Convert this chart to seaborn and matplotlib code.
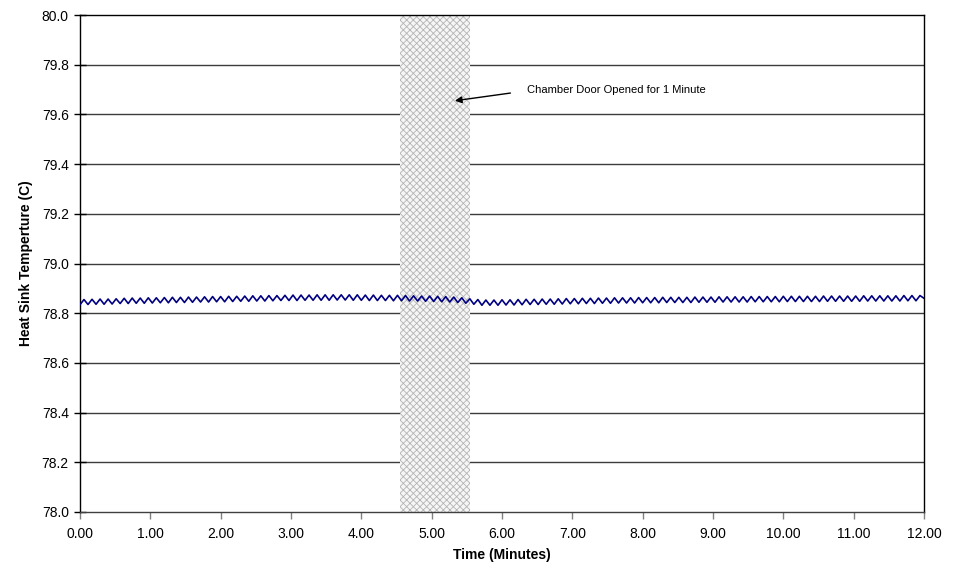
import numpy as np
import pandas as pd
import matplotlib
matplotlib.use('Agg')
import matplotlib.pyplot as plt
import seaborn as sns

# Heat sink temperature logged at a fixed interval (alternating trough / peak readings)
SAMPLE_MIN = 12.0 / 210
temp_c = [
    78.834, 78.855, 78.835, 78.856, 78.836, 78.857, 78.836, 78.857, 78.837, 78.858,
    78.839, 78.860, 78.839, 78.861, 78.840, 78.861, 78.840, 78.862, 78.841, 78.862,
    78.842, 78.863, 78.842, 78.864, 78.843, 78.864, 78.843, 78.865, 78.844, 78.865,
    78.845, 78.866, 78.845, 78.867, 78.846, 78.867, 78.846, 78.868, 78.847, 78.868,
    78.848, 78.869, 78.848, 78.870, 78.849, 78.870, 78.849, 78.871, 78.850, 78.871,
    78.851, 78.872, 78.851, 78.873, 78.851, 78.873, 78.852, 78.873, 78.852, 78.874,
    78.852, 78.874, 78.852, 78.874, 78.853, 78.874, 78.853, 78.874, 78.852, 78.874,
    78.852, 78.873, 78.851, 78.873, 78.851, 78.872, 78.851, 78.872, 78.850, 78.872,
    78.850, 78.871, 78.849, 78.870, 78.849, 78.869, 78.848, 78.869, 78.847, 78.868,
    78.846, 78.867, 78.845, 78.865, 78.843, 78.862, 78.840, 78.858, 78.836, 78.855,
    78.832, 78.853, 78.832, 78.853, 78.832, 78.854, 78.833, 78.854, 78.833, 78.855,
    78.834, 78.856, 78.835, 78.856, 78.835, 78.857, 78.836, 78.857, 78.836, 78.858,
    78.837, 78.859, 78.838, 78.859, 78.838, 78.860, 78.839, 78.860, 78.839, 78.861,
    78.840, 78.861, 78.840, 78.862, 78.841, 78.862, 78.841, 78.862, 78.841, 78.863,
    78.842, 78.863, 78.842, 78.863, 78.842, 78.864, 78.843, 78.864, 78.843, 78.864,
    78.843, 78.864, 78.843, 78.865, 78.844, 78.865, 78.844, 78.865, 78.844, 78.866,
    78.845, 78.866, 78.845, 78.866, 78.845, 78.866, 78.845, 78.867, 78.846, 78.867,
    78.846, 78.867, 78.846, 78.867, 78.846, 78.868, 78.847, 78.868, 78.847, 78.868,
    78.847, 78.868, 78.847, 78.868, 78.847, 78.869, 78.848, 78.869, 78.848, 78.869,
    78.848, 78.869, 78.848, 78.869, 78.848, 78.870, 78.849, 78.870, 78.849, 78.870,
    78.849, 78.870, 78.849, 78.870, 78.849, 78.871, 78.850, 78.871, 78.850, 78.871,
    78.860,
]

# door open window (minutes)
door_start = 4.55
door_end = 5.55

x_ticks = [0, 1, 2, 3, 4, 5, 6, 7, 8, 9, 10, 11, 12]
y_ticks = [78.0, 78.2, 78.4, 78.6, 78.8, 79.0, 79.2, 79.4, 79.6, 79.8, 80.0]

df = pd.DataFrame({
    'time': np.arange(len(temp_c)) * SAMPLE_MIN,
    'temp': temp_c,
})

sns.set_style('white')
plt.rcParams['font.family'] = ['Liberation Sans', 'DejaVu Sans']
plt.rcParams['text.color'] = 'black'
plt.rcParams['axes.labelcolor'] = 'black'
plt.rcParams['xtick.color'] = 'black'
plt.rcParams['ytick.color'] = 'black'
plt.rcParams['hatch.linewidth'] = 0.6

fig = plt.figure(figsize=(9.6, 5.78), dpi=100)
ax = fig.add_axes([0.0833, 0.1142, 0.8792, 0.8598])

# shaded stipple band for the door opening
ax.axvspan(door_start, door_end, facecolor='#f6f6f6', edgecolor='#b4b4b4',
           hatch='xxxxx', linewidth=0, zorder=1)

for yv in y_ticks[1:-1]:
    ax.axhline(yv, color='#3c3c3c', linewidth=1.0, zorder=0.5)

sns.lineplot(data=df, x='time', y='temp', color='#000080', linewidth=1.2,
             ax=ax, zorder=3)

ax.set_xlim(0, 12)
ax.set_ylim(78.0, 80.0)
ax.set_xticks(x_ticks)
ax.set_xticklabels([f'{v:.2f}' for v in x_ticks])
ax.set_yticks(y_ticks)
ax.set_yticklabels([f'{v:.1f}' for v in y_ticks])

ax.tick_params(axis='x', bottom=True, direction='out', length=5, width=1,
               color='#808080', labelcolor='black', labelsize=10, pad=6)
ax.tick_params(axis='y', left=True, direction='inout', length=8, width=1,
               color='black', labelcolor='black', labelsize=10, pad=4)

for side in ['left', 'top', 'right', 'bottom']:
    ax.spines[side].set_color('black')
    ax.spines[side].set_linewidth(1.0)
ax.spines['bottom'].set_color('#404040')

ax.set_xlabel('Time (Minutes)', fontsize=10, fontweight='bold', labelpad=5)
ax.set_ylabel('Heat Sink Temperture (C)', fontsize=10, fontweight='bold', labelpad=6)

ax.annotate('', xy=(5.33, 79.655), xytext=(6.12, 79.686),
            arrowprops=dict(arrowstyle='-|>', color='black', lw=1.0,
                            mutation_scale=10, shrinkA=0, shrinkB=0), zorder=4)
ax.text(6.36, 79.698, 'Chamber Door Opened for 1 Minute', fontsize=8,
        ha='left', va='center', zorder=4)

fig.savefig('out.png', dpi=100)
